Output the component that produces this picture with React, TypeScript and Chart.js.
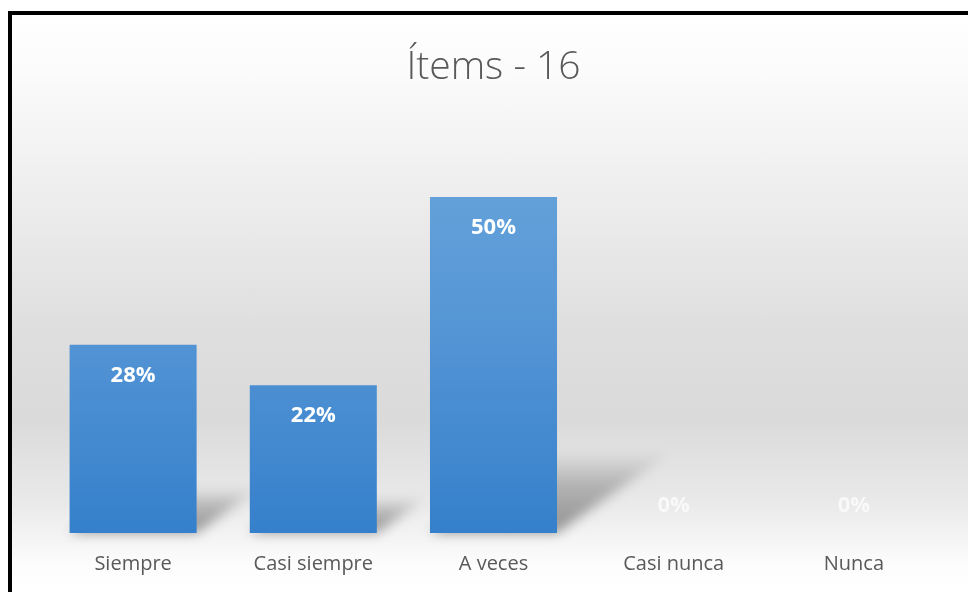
import React, { useEffect, useRef } from "react";
import { Chart, registerables } from "chart.js";

Chart.register(...registerables);

const titleText = "Ítems - 16";
const categories = ["Siempre", "Casi siempre", "A veces", "Casi nunca", "Nunca"];
const values = [28, 22, 50, 0, 0];
const valueLabels = ["28%", "22%", "50%", "0%", "0%"];

const shadowPlugin = {
  id: "barShadow",
  beforeDatasetsDraw(chart: any) {
    const ctx = chart.ctx;
    const meta = chart.getDatasetMeta(0);
    ctx.save();
    ctx.filter = "blur(6px)";
    meta.data.forEach((bar: any) => {
      const { x, y, base, width } = bar.getProps(["x", "y", "base", "width"], true);
      const h = base - y;
      if (h <= 1) return;
      const x0 = x - width / 2;
      const x1 = x + width / 2;
      const dx = h * 0.34;
      const dy = h * 0.24;
      const g = ctx.createLinearGradient(0, base, 0, base - dy);
      g.addColorStop(0, "rgba(0,0,0,0.40)");
      g.addColorStop(0.6, "rgba(0,0,0,0.22)");
      g.addColorStop(1, "rgba(0,0,0,0.0)");
      ctx.fillStyle = g;
      ctx.beginPath();
      ctx.moveTo(x0, base);
      ctx.lineTo(x1, base);
      ctx.lineTo(x1 + dx, base - dy);
      ctx.lineTo(x0 + dx, base - dy);
      ctx.closePath();
      ctx.fill();
    });
    ctx.restore();
  },
};

const labelPlugin = {
  id: "valueLabels",
  afterDatasetsDraw(chart: any) {
    const ctx = chart.ctx;
    const meta = chart.getDatasetMeta(0);
    ctx.save();
    ctx.font = "bold 22px 'Open Sans', sans-serif";
    ctx.textAlign = "center";
    ctx.textBaseline = "middle";
    meta.data.forEach((bar: any, i: number) => {
      const { x, y, base } = bar.getProps(["x", "y", "base"], true);
      if (values[i] > 0) {
        ctx.fillStyle = "#ffffff";
        ctx.fillText(valueLabels[i], x, y + 31);
      } else {
        ctx.fillStyle = "rgba(255,255,255,0.7)";
        ctx.fillText(valueLabels[i], x, base - 27);
      }
    });
    ctx.restore();
  },
};

export default function App() {
  const ref = useRef<HTMLCanvasElement | null>(null);

  useEffect(() => {
    if (!ref.current) return;
    const chart = new Chart(ref.current, {
      type: "bar",
      data: {
        labels: categories,
        datasets: [
          {
            data: values,
            backgroundColor: (c: any) => {
              const area = c.chart.chartArea;
              if (!area) return "#4a8fd3";
              const g = c.chart.ctx.createLinearGradient(0, area.top, 0, area.bottom);
              g.addColorStop(0, "#6aa6dc");
              g.addColorStop(0.45, "#5797d6");
              g.addColorStop(1, "#3580cb");
              return g;
            },
            borderWidth: 0,
            barPercentage: 0.705,
            categoryPercentage: 1,
          },
        ],
      },
      options: {
        animation: false,
        responsive: true,
        maintainAspectRatio: false,
        layout: { padding: { left: 31, right: 24, top: 0, bottom: -3 } },
        plugins: {
          legend: { display: false },
          tooltip: { enabled: false },
          title: {
            display: true,
            text: titleText,
            color: "#595959",
            font: { family: "'Open Sans', sans-serif", size: 39, weight: "300" as any },
            padding: { top: 29, bottom: 39 },
          },
        },
        scales: {
          x: {
            grid: { display: false, drawTicks: false },
            border: { display: false },
            ticks: {
              color: "#595959",
              font: { family: "'Open Sans', sans-serif", size: 20 },
              padding: 19,
            },
          },
          y: { display: false, min: 0, max: 60 },
        },
      },
      plugins: [shadowPlugin, labelPlugin],
    });
    return () => chart.destroy();
  }, []);

  return (
    <div
      style={{
        position: "fixed",
        left: 0,
        top: 0,
        width: 968,
        height: 592,
        background: "#ffffff",
        overflow: "hidden",
      }}
    >
      <div
        style={{
          position: "absolute",
          left: 8,
          top: 11,
          right: 0,
          bottom: 0,
          borderTop: "4px solid #000",
          borderLeft: "4px solid #000",
          background:
            "linear-gradient(to bottom, #ffffff 0%, #fbfbfb 10%, #eeeeee 30%, #dedede 55%, #dadada 70%, #eaeaea 85%, #fcfcfc 95%, #ffffff 100%)",
        }}
      >
        <div style={{ position: "absolute", left: 0, top: 0, right: 0, bottom: 0 }}>
          <canvas ref={ref} />
        </div>
      </div>
    </div>
  );
}
